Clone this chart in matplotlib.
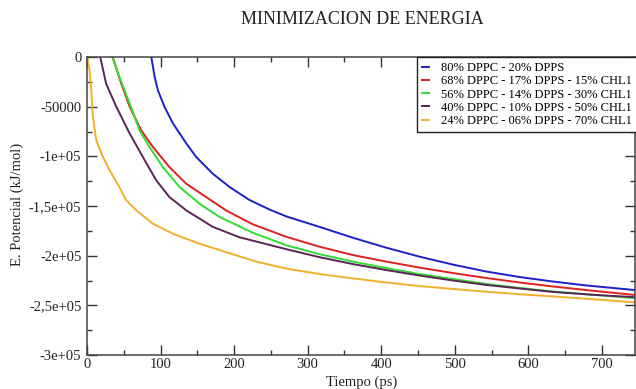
import matplotlib
matplotlib.use("Agg")
import matplotlib.pyplot as plt
from matplotlib.ticker import MultipleLocator, FixedLocator, FixedFormatter

plt.rcParams['font.family'] = ['Liberation Serif', 'DejaVu Serif']

labels = [
    "80% DPPC - 20% DPPS",
    "68% DPPC - 17% DPPS - 15% CHL1",
    "56% DPPC - 14% DPPS - 30% CHL1",
    "40% DPPC - 10% DPPS - 50% CHL1",
    "24% DPPC - 06% DPPS - 70% CHL1",
]
colors = ['#1f1fc8', '#dd2020', '#30dd30', '#5a2456', '#f0b02a']

t_blue = [84, 87.4, 92, 96.4, 105.5, 117, 135, 148.5, 171, 194, 221, 248, 271, 316, 361.6,
          407, 452, 497.5, 543, 588, 633, 679, 750]
e_blue = [4000, 0, -20000, -33600, -50400, -67000, -87000, -100700, -117500, -131000,
          -144000, -153500, -160500, -171000, -182000, -192000, -201000, -209000,
          -216000, -221500, -226000, -230000, -235000]

t_red = [33, 35, 46.6, 58, 73.7, 89.6, 112, 135, 162, 189, 225.5, 271, 316, 361.6, 407,
         452, 497.5, 543, 588, 633, 690, 750]
e_red = [4000, 0, -26900, -50000, -73900, -90600, -110800, -127600, -141000, -154400,
         -168500, -181000, -191000, -199400, -206000, -212000, -217500, -222500,
         -227000, -231000, -235500, -240000]

t_green = [32, 34.3, 44, 58, 71.5, 85, 103, 126, 153, 180, 225.5, 271, 316, 361.6, 407,
           452, 497.5, 543, 588, 633, 690, 750]
e_green = [4000, 0, -20000, -47000, -73900, -90600, -110800, -131000, -147700, -161000,
           -177000, -189500, -198500, -206000, -212500, -218500, -223500, -228500,
           -232500, -236000, -239500, -243000]

t_purple = [16, 18, 26, 39.8, 58, 76, 94, 112, 135, 171, 207.4, 271, 316, 361.6, 407,
            452, 497.5, 543, 588, 633, 690, 750]
e_purple = [4000, 0, -26900, -50000, -77000, -100700, -124000, -141000, -154400,
            -171000, -181500, -193500, -201500, -208500, -214500, -220000, -225000,
            -229500, -233000, -236500, -239500, -242000]

t_orange = [0, 1.5, 3.5, 5.8, 8, 12.6, 21.6, 30.7, 44, 53, 67, 89.6, 117, 153, 189, 230,
            271, 316, 361.6, 407, 452, 497.5, 543, 588, 633, 690, 750]
e_orange = [0, -5000, -13400, -33600, -60000, -84000, -100700, -114000, -131000, -144000,
            -154400, -167800, -178000, -188000, -196400, -206000, -213000, -218500,
            -222900, -227000, -230600, -233500, -236300, -238800, -241000, -244000,
            -247400]

series = [(t_blue, e_blue), (t_red, e_red), (t_green, e_green),
          (t_purple, e_purple), (t_orange, e_orange)]

yticks = [0, -50000, -100000, -150000, -200000, -250000, -300000]
yticklabels = ["0", "-50000", "-1e+05", "-1,5e+05", "-2e+05", "-2,5e+05", "-3e+05"]

fig = plt.figure(figsize=(6.36, 3.89), dpi=100)
ax = fig.add_axes([87/636, 1-355/389, 548/636, 298/389])

for (t, e), c, lab in zip(series, colors, labels):
    ax.plot(t, e, color=c, lw=1.4, label=lab, solid_joinstyle='round')

ax.set_xlim(0, 745)
ax.set_ylim(-300000, 0)
ax.xaxis.set_major_locator(MultipleLocator(100))
ax.xaxis.set_minor_locator(MultipleLocator(50))
ax.yaxis.set_major_locator(FixedLocator(yticks))
ax.yaxis.set_major_formatter(FixedFormatter(yticklabels))
ax.yaxis.set_minor_locator(MultipleLocator(25000))
ax.tick_params(which='both', direction='in', top=True, right=True,
               labelsize=10.5, colors='#333333', labelcolor='#222222')
ax.tick_params(which='major', length=7, width=1)
ax.tick_params(which='minor', length=3.5, width=1)
ax.tick_params(axis='x', pad=2)
ax.tick_params(axis='y', pad=4)
for s in ax.spines.values():
    s.set_linewidth(1.1)
    s.set_color('#444444')

leg = ax.legend(loc='upper left', bbox_to_anchor=((417-87)/548, 1.0), borderaxespad=0,
                fontsize=9, handlelength=0.55, handletextpad=1.0, labelspacing=0.1,
                borderpad=0.4, fancybox=False, framealpha=1, edgecolor='#222222')
leg.get_frame().set_linewidth(1.0)

fig.text(362/636, 1-20/389, "MINIMIZACION DE ENERGIA", ha='center', va='center',
         fontsize=13, color='#222222')
fig.text(362/636, 1-382/389, "Tiempo (ps)", ha='center', va='center',
         fontsize=10.5, color='#222222')
fig.text(17/636, 1-204/389, "E. Potencial (kJ/mol)", ha='center', va='center',
         rotation=90, fontsize=10.5, color='#222222')

fig.savefig("out.png", dpi=100)
